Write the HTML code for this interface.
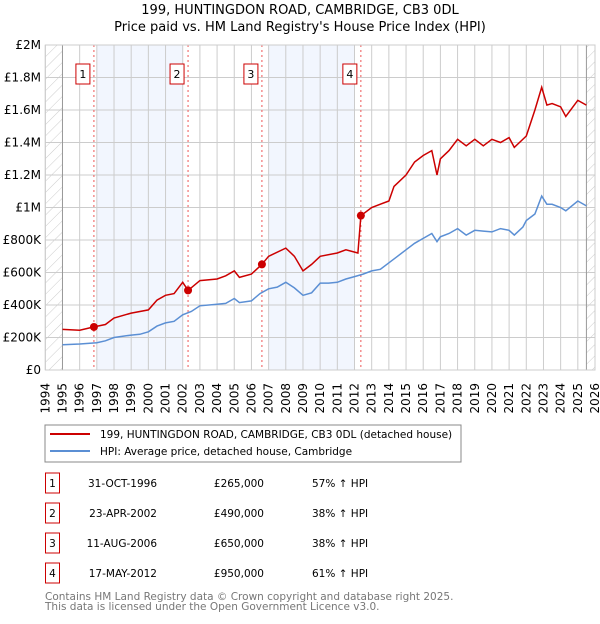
<!DOCTYPE html>
<html><head><meta charset="utf-8"><style>
body{margin:0;background:#fff;font-family:"DejaVu Sans","Liberation Sans",sans-serif;}
svg text{font-family:"DejaVu Sans","Liberation Sans",sans-serif;}
</style></head><body>
<svg width="600" height="620" viewBox="0 0 600 620" xmlns="http://www.w3.org/2000/svg">
<defs><pattern id="hatch" width="8" height="8" patternUnits="userSpaceOnUse" patternTransform="rotate(45)"><line x1="0" y1="0" x2="0" y2="8" stroke="#ccc" stroke-width="1"/></pattern></defs>
<text x="300" y="14" text-anchor="middle" font-size="13">199, HUNTINGDON ROAD, CAMBRIDGE, CB3 0DL</text>
<text x="300" y="31" text-anchor="middle" font-size="13">Price paid vs. HM Land Registry's House Price Index (HPI)</text>
<g id="plot"></g>
<rect x="45" y="425" width="416" height="37" fill="#fff" stroke="#888"/>
<line x1="50" y1="434" x2="90" y2="434" stroke="#cc0000" stroke-width="2"/>
<text x="100" y="438" font-size="10.5">199, HUNTINGDON ROAD, CAMBRIDGE, CB3 0DL (detached house)</text>
<line x1="50" y1="451" x2="90" y2="451" stroke="#5b8fd4" stroke-width="2"/>
<text x="100" y="455" font-size="10.5">HPI: Average price, detached house, Cambridge</text>
<g id="table"></g>
<text x="45" y="600" font-size="10.5" fill="#777">Contains HM Land Registry data © Crown copyright and database right 2025.</text>
<text x="45" y="610" font-size="10.5" fill="#777">This data is licensed under the Open Government Licence v3.0.</text>
</svg>
<script>
const yTicks=[0,200000,400000,600000,800000,1000000,1200000,1400000,1600000,1800000,2000000];
const yTickLabels=["£0","£200K","£400K","£600K","£800K","£1M","£1.2M","£1.4M","£1.6M","£1.8M","£2M"];
const years=[1994,1995,1996,1997,1998,1999,2000,2001,2002,2003,2004,2005,2006,2007,2008,2009,2010,2011,2012,2013,2014,2015,2016,2017,2018,2019,2020,2021,2022,2023,2024,2025,2026];
const hpiT=[1995,1996,1997,1997.5,1998,1999,1999.5,2000,2000.5,2001,2001.5,2002,2002.5,2003,2004,2004.5,2005,2005.3,2006,2006.5,2007,2007.5,2008,2008.5,2009,2009.5,2010,2010.5,2011,2011.5,2012,2012.5,2013,2013.5,2014,2014.5,2015,2015.5,2016,2016.5,2016.8,2017,2017.5,2018,2018.5,2019,2019.5,2020,2020.5,2021,2021.3,2021.8,2022,2022.5,2022.9,2023.2,2023.5,2024,2024.3,2025,2025.5];
const hpiV=[155,160,168,180,200,215,220,235,270,290,300,340,360,395,405,410,440,415,425,470,500,510,540,505,460,475,535,535,540,560,575,590,610,620,660,700,740,780,810,840,790,820,840,870,830,860,855,850,870,860,830,880,920,960,1070,1020,1020,1000,980,1040,1010];
const priceT=[1995,1996,1996.83,1997.5,1998,1999,2000,2000.5,2001,2001.5,2002,2002.31,2003,2004,2004.5,2005,2005.3,2006,2006.61,2007,2008,2008.5,2009,2009.5,2010,2011,2011.5,2012.2,2012.37,2013,2014,2014.3,2015,2015.5,2016,2016.5,2016.8,2017,2017.5,2018,2018.5,2019,2019.5,2020,2020.5,2021,2021.3,2022,2022.5,2022.9,2023.2,2023.5,2024,2024.3,2025,2025.5];
const priceV=[250,245,265,280,320,350,370,430,460,470,540,490,550,560,580,610,570,590,650,700,750,700,610,650,700,720,740,720,950,1000,1040,1130,1200,1280,1320,1350,1200,1300,1350,1420,1380,1420,1380,1420,1400,1430,1370,1440,1600,1740,1630,1640,1620,1560,1660,1630];
const saleT=[1996.83,2002.31,2006.61,2012.37];
const saleV=[265000,490000,650000,950000];
const saleLabels=["1","2","3","4"];
const saleDates=["31-OCT-1996","23-APR-2002","11-AUG-2006","17-MAY-2012"];
const salePrices=["£265,000","£490,000","£650,000","£950,000"];
const saleHpi=["57% ↑ HPI","38% ↑ HPI","38% ↑ HPI","61% ↑ HPI"];
const NS="http://www.w3.org/2000/svg";
const X0=45.3,X1=595,Y0=370,Y1=45;
const xs=t=>X0+(t-1994)/(2026-1994)*(X1-X0);
const ys=v=>Y0-v/2000000*(Y0-Y1);
const plot=document.getElementById('plot');
function mk(tag,at,parent){const e=document.createElementNS(NS,tag);for(const k in at)e.setAttribute(k,at[k]);(parent||plot).appendChild(e);return e;}
let e;
e=mk('rect',{x:X0,y:Y1,width:X1-X0,height:Y0-Y1,fill:'#fff'});


[[1997,2002],[2007,2012]].forEach(b=>{e=mk('rect',{x:xs(b[0]),y:Y1,width:xs(b[1])-xs(b[0]),height:Y0-Y1,fill:'#f2f6fe'});

});
e=mk('rect',{x:X0,y:Y1,width:xs(1995)-X0,height:Y0-Y1,fill:'url(#hatch)'});


e=mk('rect',{x:xs(2025.5),y:Y1,width:X1-xs(2025.5),height:Y0-Y1,fill:'url(#hatch)'});


years.forEach(y=>{e=mk('line',{x1:xs(y),x2:xs(y),y1:Y1,y2:Y0,stroke:'#ccc','stroke-width':1});


e=mk('text',{x:0,y:0,'font-size':12,'text-anchor':'end',transform:`translate(${xs(y)+4},383) rotate(-90)`});
e.textContent=y;

});
yTicks.forEach((v,i)=>{e=mk('line',{x1:X0,x2:X1,y1:ys(v),y2:ys(v),stroke:'#ccc','stroke-width':1});


e=mk('text',{x:41,y:ys(v)+4,'font-size':12,'text-anchor':'end'});
e.textContent=yTickLabels[i];

});
e=mk('line',{x1:xs(1995),x2:xs(1995),y1:Y1,y2:Y0,stroke:'#999'});


e=mk('line',{x1:xs(2025.5),x2:xs(2025.5),y1:Y1,y2:Y0,stroke:'#999'});


saleT.forEach((t,i)=>{e=mk('line',{x1:xs(t),x2:xs(t),y1:Y1,y2:Y0,stroke:'#e55','stroke-width':1,'stroke-dasharray':'2,3'});


e=mk('rect',{x:xs(t)-18,y:64,width:14,height:20,fill:'#fff',stroke:'#cc0000'});


e=mk('text',{x:xs(t)-11,y:78,'font-size':11,'text-anchor':'middle'});
e.textContent=saleLabels[i];

});
const path=(T,V)=>T.map((t,i)=>(i?'L':'M')+xs(t).toFixed(1)+','+ys(V[i]*1000).toFixed(1)).join('');
e=mk('path',{d:path(hpiT,hpiV),fill:'none',stroke:'#5b8fd4','stroke-width':1.5});


e=mk('path',{d:path(priceT,priceV),fill:'none',stroke:'#cc0000','stroke-width':1.5});


saleT.forEach((t,i)=>{e=mk('circle',{cx:xs(t),cy:ys(saleV[i]),r:4,fill:'#cc0000'});

});
e=mk('rect',{x:X0,y:Y1,width:X1-X0,height:Y0-Y1,fill:'none',stroke:'#ccc'});


const tbl=document.getElementById('table');
saleLabels.forEach((l,i)=>{const cy=483+i*30;
e=mk('rect',{x:45.5,y:cy-10,width:14,height:20,fill:'#fff',stroke:'#cc0000'},tbl);


e=mk('text',{x:52.5,y:cy+4,'font-size':10.5,'text-anchor':'middle'},tbl);e.textContent=l;


e=mk('text',{x:157,y:cy+4,'font-size':10.5,'text-anchor':'end'},tbl);e.textContent=saleDates[i];


e=mk('text',{x:264,y:cy+4,'font-size':10.5,'text-anchor':'end'},tbl);e.textContent=salePrices[i];


e=mk('text',{x:312,y:cy+4,'font-size':10.5},tbl);e.textContent=saleHpi[i];

});
</script>
</body></html>
